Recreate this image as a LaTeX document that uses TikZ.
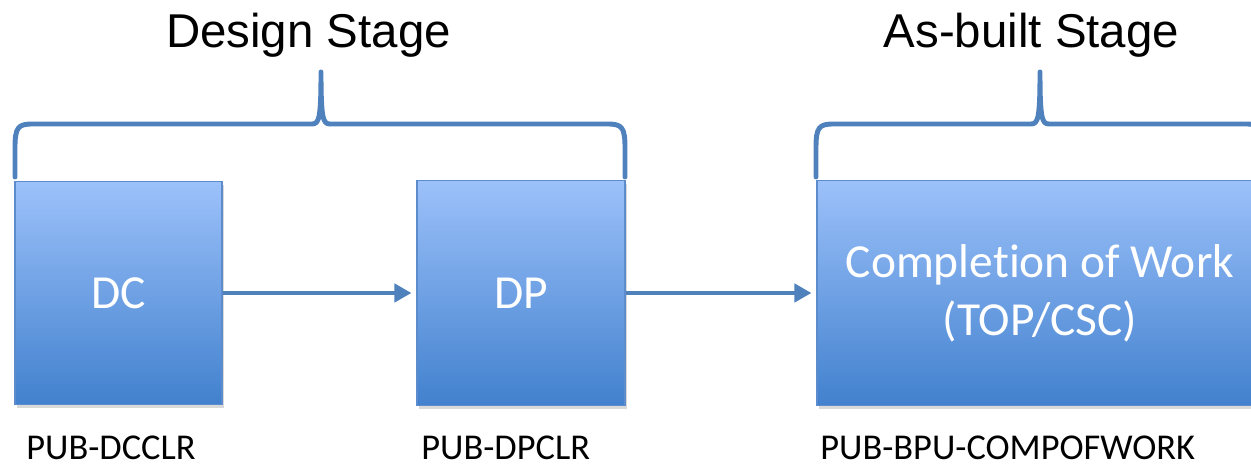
\documentclass[tikz,border=0pt]{standalone}
\usepackage{fontspec}
\setmainfont[Ligatures={NoCommon}]{Carlito}
\newfontfamily\headfont{Liberation Sans}
\usetikzlibrary{arrows.meta,shadows}

\definecolor{boxtop}{RGB}{156,193,250}
\definecolor{boxbot}{RGB}{66,129,206}
\definecolor{boxedge}{RGB}{92,140,204}
\definecolor{linkblue}{RGB}{79,129,189}

\begin{document}
\begin{tikzpicture}[
	stagebox/.style={draw=boxedge, line width=0.6pt, top color=boxtop, bottom color=boxbot,
		text=white, font=\fontsize{27}{33}\selectfont, align=center, inner sep=0pt,
		drop shadow={shadow xshift=0.04cm, shadow yshift=-0.07cm, opacity=0.3}},
	flow/.style={draw=linkblue, line width=2.8pt, -{Triangle[length=0.34cm,width=0.36cm]}, shorten >=0.1cm},
	brace/.style={draw=linkblue, line width=2.8pt, line cap=round, line join=round},
	stagetitle/.style={font=\headfont\fontsize{27}{32}\selectfont, anchor=base},
	code/.style={font=\fontsize{20.7}{24}\selectfont, anchor=base west, inner sep=0pt}]
	\useasboundingbox (0,0) rectangle (25.02,9.36);
	\clip (0,0) rectangle (25.02,9.36);

	\node[stagebox, minimum width=4.14cm, minimum height=4.46cm] (dc) at (2.37,3.5) {DC};
	\node[stagebox, minimum width=4.16cm, minimum height=4.5cm] (dp) at (10.42,3.5) {DP};
	\node[stagebox, minimum width=8.92cm, minimum height=4.5cm] (cow) at (20.8,3.5) {Completion of Work\\(TOP/CSC)};

	\draw[flow] (dc) -- (dp);
	\draw[flow] (dp) -- (cow);

	\draw[brace] (0.30,5.82) -- (0.30,6.4) .. controls (0.30,6.82) and (0.36,6.88) .. (0.66,6.88)
		-- (6.24,6.88) .. controls (6.38,6.88) and (6.42,6.98) .. (6.42,7.92)
		.. controls (6.42,6.98) and (6.46,6.88) .. (6.60,6.88)
		-- (12.14,6.88) .. controls (12.44,6.88) and (12.50,6.82) .. (12.50,6.4) -- (12.50,5.82);
	\draw[brace] (16.32,5.82) -- (16.32,6.4) .. controls (16.32,6.82) and (16.38,6.88) .. (16.68,6.88)
		-- (20.62,6.88) .. controls (20.76,6.88) and (20.80,6.98) .. (20.80,7.92)
		.. controls (20.80,6.98) and (20.84,6.88) .. (20.98,6.88)
		-- (24.90,6.88) .. controls (25.20,6.88) and (25.26,6.82) .. (25.26,6.4) -- (25.26,5.82);

	\node[stagetitle] (dstitle) at (6.17,8.4) {Design Stage};
	\node[stagetitle] (abtitle) at (20.63,8.4) {As-built Stage};

	\node[code] (dclbl) at (0.52,0.17) {PUB-DCCLR};
	\node[code] (dplbl) at (8.42,0.17) {PUB-DPCLR};
	\node[code] (cowlbl) at (16.40,0.17) {PUB-BPU-COMPOFWORK};
\end{tikzpicture}
\end{document}
